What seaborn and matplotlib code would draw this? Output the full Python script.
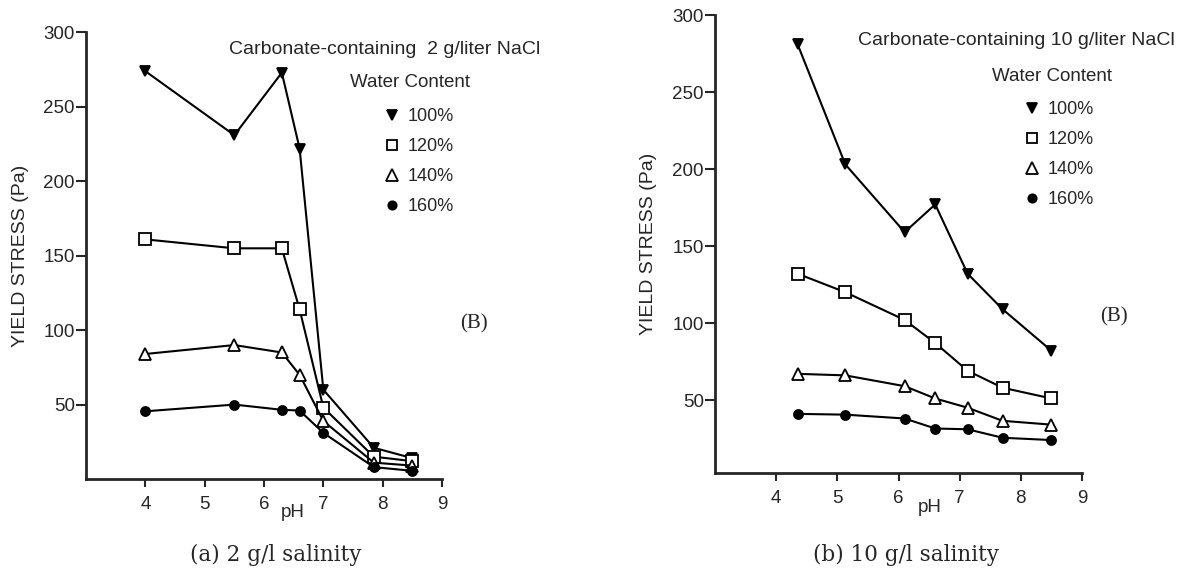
import matplotlib
matplotlib.use("Agg")
import matplotlib.pyplot as plt
from matplotlib.lines import Line2D
import pandas as pd
import seaborn as sns

# ---- data: yield stress (Pa) vs pH for four water contents ----
water_levels = ["100%", "120%", "140%", "160%"]

ph_2g = [4.0, 5.5, 6.3, 6.6, 7.0, 7.85, 8.5]
stress_2g_100 = [274, 231, 273, 222, 60, 21, 14]
stress_2g_120 = [161, 155, 155, 114, 48, 15, 12]
stress_2g_140 = [84, 90, 85, 70, 39, 11, 9]
stress_2g_160 = [45.5, 50, 46.5, 46, 31, 8, 5.5]

ph_10g = [4.35, 5.13, 6.1, 6.6, 7.13, 7.7, 8.5]
stress_10g_100 = [281, 203, 159, 177, 132, 109, 82]
stress_10g_120 = [132, 120, 102, 87, 69, 58, 51]
stress_10g_140 = [67, 66, 59, 51, 45, 36.5, 34]
stress_10g_160 = [41, 40.5, 38, 31.5, 31, 25.5, 24]

x_ticks = [4, 5, 6, 7, 8, 9]
y_ticks = [50, 100, 150, 200, 250, 300]

panel_titles = ["Carbonate-containing  2 g/liter NaCl",
                "Carbonate-containing 10 g/liter NaCl"]
captions = ["(a) 2 g/l salinity", "(b) 10 g/l salinity"]

# marker styles per water content: (marker, face colour, size)
marker_styles = {
    "100%": ("v", "black", 7),
    "120%": ("s", "white", 8),
    "140%": ("^", "white", 9),
    "160%": ("o", "black", 6.5),
}


def long_frame(ph, series):
    rows = []
    for level, values in zip(water_levels, series):
        for p, v in zip(ph, values):
            rows.append({"pH": p, "stress": v, "water": level})
    return pd.DataFrame(rows)


df_2g = long_frame(ph_2g, [stress_2g_100, stress_2g_120, stress_2g_140, stress_2g_160])
df_10g = long_frame(ph_10g, [stress_10g_100, stress_10g_120, stress_10g_140, stress_10g_160])

sns.set_style("ticks")
plt.rcParams["font.family"] = ["Liberation Sans", "DejaVu Sans"]

fig = plt.figure(figsize=(11.85, 5.71), dpi=100)
ax_a = fig.add_axes([0.0726, 0.1611, 0.3004, 0.7820])
ax_b = fig.add_axes([0.6034, 0.1716, 0.3097, 0.8021])

panels = [
    # axes, data, ylim bottom, ylabel x, pH label x, title pos, title ha,
    # "Water Content" pos, legend anchor, (B) pos, caption x
    (ax_a, df_2g, 0.0, -0.185, 0.581, (0.840, 0.961), "center",
     (0.910, 0.887), (0.840, 0.830), (9.53, 104), 276 / 1185),
    (ax_b, df_10g, 2.6, -0.180, 0.586, (0.390, 0.945), "left",
     (0.918, 0.865), (0.845, 0.812), (9.52, 104), 906 / 1185),
]

for i, (ax, df, ybot, ylx, xlx, tpos, tha, wpos, lpos, bpos, capx) in enumerate(panels):
    for level in water_levels:
        marker, face, size = marker_styles[level]
        sns.lineplot(data=df[df["water"] == level], x="pH", y="stress",
                     ax=ax, color="black", linewidth=1.5, marker=marker,
                     markersize=size, markerfacecolor=face, mec="black",
                     mew=1.3, legend=False, clip_on=False, zorder=3)

    ax.set_xlim(3, 9)
    ax.set_ylim(ybot, 300)
    ax.set_xticks(x_ticks)
    ax.set_yticks(y_ticks)
    sns.despine(ax=ax)
    for side in ("left", "bottom"):
        ax.spines[side].set_linewidth(2.0)
    ax.tick_params(axis="y", direction="out", length=7, width=1.5, pad=1,
                   labelsize=13.5)
    ax.tick_params(axis="x", direction="out", length=6, width=1.5, pad=6,
                   labelsize=13.5)

    ax.set_ylabel("YIELD STRESS (Pa)", fontsize=14)
    ax.yaxis.label.set_va("center")
    ax.yaxis.set_label_coords(ylx, 0.5)
    ax.set_xlabel("pH", fontsize=13.5)
    ax.xaxis.label.set_va("center")
    ax.xaxis.set_label_coords(xlx, -0.075)

    ax.text(tpos[0], tpos[1], panel_titles[i], transform=ax.transAxes,
            ha=tha, va="center", fontsize=14, clip_on=False)
    ax.text(wpos[0], wpos[1], "Water Content", transform=ax.transAxes,
            ha="center", va="center", fontsize=13.5)

    handles = [Line2D([], [], linestyle="none", color="black",
                      marker=marker_styles[l][0], markersize=marker_styles[l][2] - 0.5,
                      markerfacecolor=marker_styles[l][1], mec="black", mew=1.3)
               for l in water_levels]
    ax.legend(handles, water_levels, loc="upper left", bbox_to_anchor=lpos,
              frameon=False, fontsize=13, handlelength=0.8,
              handletextpad=0.45, labelspacing=0.72, borderpad=0,
              borderaxespad=0)

    ax.text(bpos[0], bpos[1], "(B)", ha="center", va="center",
            fontsize=15, family="Liberation Serif", clip_on=False)

    fig.text(capx, 1 - 555 / 571, captions[i], ha="center", va="center",
             fontsize=15.5, family="DejaVu Serif")

fig.savefig("out.png", dpi=100)
